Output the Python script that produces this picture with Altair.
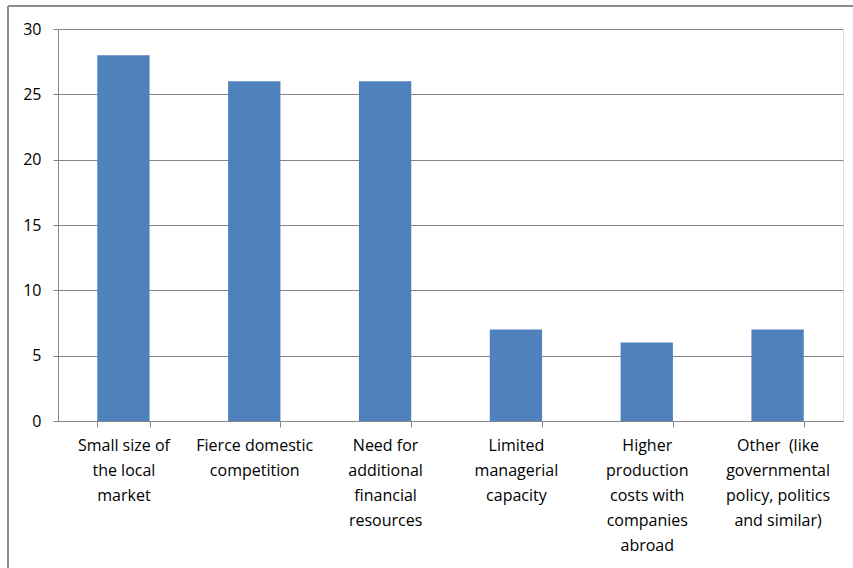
import altair as alt
import pandas as pd

categories = [
    "Small size of|the local|market",
    "Fierce domestic|competition",
    "Need for|additional|financial|resources",
    "Limited|managerial|capacity",
    "Higher|production|costs with|companies|abroad",
    "Other \u00a0(like|governmental|policy, politics|and similar)",
]
values = [28, 26, 26, 7, 6, 7]

df = pd.DataFrame({"category": categories, "value": values})

FONT = "Open Sans"

bars = alt.Chart(df).mark_bar(color="#4F81BD").encode(
    x=alt.X(
        "category:N",
        sort=categories,
        title=None,
        scale=alt.Scale(paddingInner=0.6, paddingOuter=0.3),
        axis=alt.Axis(
            labelAngle=0,
            labelExpr="split(datum.label, '|')",
            labelLineHeight=25,
            labelFontSize=16,
            labelFont=FONT,
            labelColor="#000000",
            labelPadding=10,
            labelLimit=200,
            tickBand="extent",
            tickSize=6,
            tickColor="#868686",
            domainColor="#868686",
            grid=False,
        ),
    ),
    y=alt.Y(
        "value:Q",
        title=None,
        scale=alt.Scale(domain=[0, 30]),
        axis=alt.Axis(
            values=[0, 5, 10, 15, 20, 25, 30],
            labelFontSize=16,
            labelFont=FONT,
            labelColor="#000000",
            labelPadding=12,
            tickSize=5,
            tickColor="#868686",
            domainColor="#868686",
            gridColor="#868686",
            gridWidth=1,
        ),
    ),
)

frame_left = alt.Chart(df).mark_rule(color="#8c8c8c", strokeWidth=2).encode(
    x=alt.value(-50), y=alt.value(-23), y2=alt.value(600)
)
frame_top = alt.Chart(df).mark_rule(color="#8c8c8c", strokeWidth=2).encode(
    x=alt.value(-50), x2=alt.value(900), y=alt.value(-23)
)

chart = alt.layer(bars, frame_left, frame_top).properties(
    width=785,
    height=392,
    autosize=alt.AutoSizeParams(type="none"),
    padding={"left": 58, "top": 29, "right": 10, "bottom": 147},
).configure_view(stroke=None).configure(background="white")

chart.save("out.html", embed_options={"renderer": "svg", "actions": False})
